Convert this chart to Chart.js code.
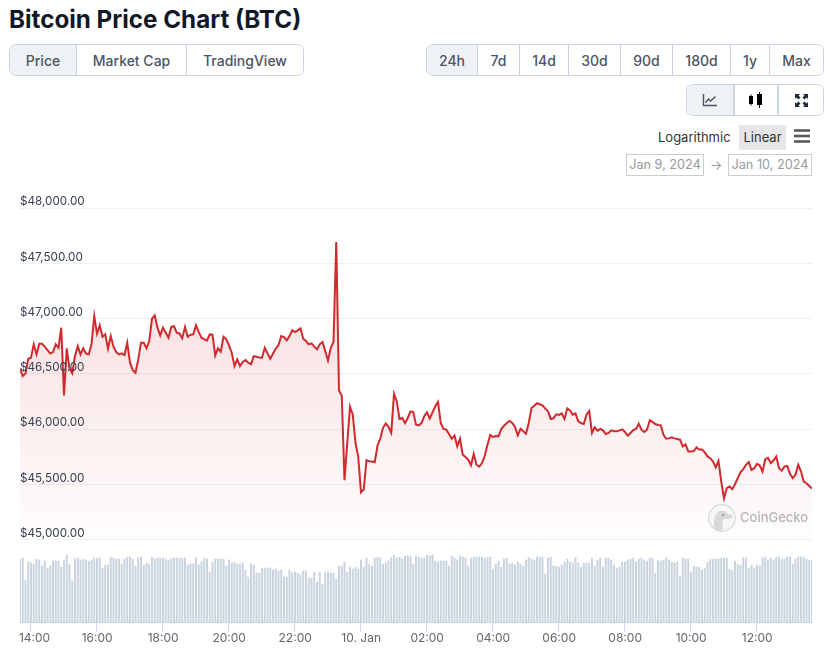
<!DOCTYPE html>
<html>
<head>
<meta charset="utf-8">
<title>Bitcoin Price Chart (BTC)</title>
<script src="https://cdn.jsdelivr.net/npm/chart.js@4/dist/chart.umd.min.js"></script>
<style>
    html, body { margin: 0; padding: 0; background: #fff; overflow: hidden; }
    body { width: 824px; height: 662px; position: relative; font-family: Inter, sans-serif; }
    h1 { position: absolute; left: 9px; top: 5px; margin: 0; font-size: 24.200px; line-height: 30px; font-weight: 700; color: #111827; white-space: nowrap; }
    .group { position: absolute; display: flex; box-sizing: border-box; height: 32px; border: 1px solid #cbd5e1; border-radius: 7px; overflow: hidden; background: #fff; }
    .group div { box-sizing: border-box; display: flex; align-items: center; justify-content: center; height: 100%; font-size: 14px; font-weight: 500; color: #4b5563; border-left: 1px solid #cbd5e1; }
    .group div:first-child { border-left: 0; }
    .group .on { background: #eff2f5; }
    .txt { position: absolute; white-space: nowrap; }
    .date { position: absolute; box-sizing: border-box; top: 154px; height: 22px; border: 1px solid #ccc; color: #999; font-size: 12.700px; line-height: 20px; text-align: center; white-space: nowrap; }
    #chartBox { position: absolute; left: 0; top: 190px; width: 824px; height: 472px; }
    #gecko { position: absolute; left: 708px; top: 504px; width: 28px; height: 28px; }
    #geckoText { position: absolute; left: 740px; top: 508px; font-size: 13px; line-height: 18px; font-weight: 500; color: #b4b4b4; }
</style>
</head>
<body>
<h1>Bitcoin Price Chart (BTC)</h1>

<div class="group" style="left:9px;top:44px;width:295px">
    <div class="on" style="width:66px">Price</div><div style="width:110px">Market Cap</div><div style="flex:1">TradingView</div>
</div>
<div class="group" style="left:426px;top:44px;width:398px">
    <div class="on" style="width:50px">24h</div><div style="width:42px">7d</div><div style="width:49px">14d</div><div style="width:52px">30d</div><div style="width:52px">90d</div><div style="width:58px">180d</div><div style="width:39px">1y</div><div style="flex:1">Max</div>
</div>
<div class="group" style="left:686px;top:84px;width:138px">
    <div class="on" style="width:46px">
        <svg width="16" height="14" viewBox="0 0 16 14"><path d="M1.500 1v11.500H15" fill="none" stroke="#4b5563" stroke-width="1.400"/><path d="M3.500 9.500l3-3.500 2 2 5-4.500" fill="none" stroke="#4b5563" stroke-width="1.400"/></svg>
    </div>
    <div style="width:44px;border-left-width:2px">
        <svg width="16" height="16" viewBox="0 0 16 16"><path d="M1 4h4v8H1zM9 2h5v11H9z" fill="#000"/><path d="M11.500 0v16M3 2.500v11" stroke="#000" stroke-width="1"/></svg>
    </div>
    <div style="flex:1;border-left-width:2px">
        <svg width="13" height="13" viewBox="0 0 13 13"><path d="M0 0h5L3.500 1.500 5.500 3.500 3.500 5.500 1.500 3.500 0 5zM13 0v5L11.500 3.500 9.500 5.500 7.500 3.500 9.500 1.500 8 0zM0 13V8L1.500 9.500 3.500 7.500 5.500 9.500 3.500 11.500 5 13zM13 13H8L9.500 11.500 7.500 9.500 9.500 7.500 11.500 9.500 13 8z" fill="#1f2937"/></svg>
    </div>
</div>

<div class="txt" style="left:658px;top:129px;font-size:13px;line-height:17px;color:#333">Logarithmic</div>
<div class="txt" style="left:739px;top:125px;width:47px;height:25px;line-height:25px;background:#e6e6e6;font-size:13px;color:#333;text-align:center">Linear</div>
<svg class="txt" style="left:794px;top:129px" width="16" height="14"><path d="M0 1.500h16M0 7h16M0 12.500h16" stroke="#555" stroke-width="2.600"/></svg>
<div class="date" style="left:626px;width:78px">Jan 9, 2024</div>
<div class="txt" style="left:710px;top:155px;font-size:13px;line-height:20px;color:#999">→</div>
<div class="date" style="left:728px;width:84px">Jan 10, 2024</div>

<div id="chartBox"><canvas id="priceChart" width="824" height="472"></canvas></div>

<svg id="gecko" viewBox="0 0 28 28">
    <circle cx="14" cy="14" r="13.300" fill="#f6f6f6" stroke="#d8d8d8" stroke-width="1.200"/>
    <path d="M7 26.500C5 18 6 9 12 7c4-1 7 1 8 3 3 0 5 1 5 3-2 2-6 2-9 2-2 3-2 7-1 11.500z" fill="#d9d9d9"/>
    <circle cx="15" cy="11" r="1.500" fill="#aaa"/>
</svg>
<div id="geckoText">CoinGecko</div>

<script>
// minutes since Jan 9 00:00, one sample every 5 minutes
const startMinute = 821;
const stepMinutes = 5;

const prices = [
    46545, 46479, 46503, 46636, 46645, 46766, 46675, 46772, 46772, 46745,
    46714, 46684, 46696, 46766, 46735, 46917, 46304, 46730, 46545, 46503,
    46660, 46750, 46675, 46730, 46681, 46675, 46766, 47022, 46862, 46938,
    46835, 46856, 46726, 46841, 46745, 46696, 46675, 46684, 46669, 46781,
    46600, 46533, 46509, 46630, 46781, 46781, 46730, 46796, 46998, 47028,
    46917, 46847, 46917, 46871, 46826, 46923, 46932, 46871, 46865, 46820,
    46923, 46835, 46853, 46856, 46938, 46877, 46826, 46811, 46802, 46856,
    46853, 46666, 46730, 46699, 46835, 46811, 46757, 46690, 46569, 46630,
    46569, 46606, 46624, 46600, 46585, 46660, 46654, 46648, 46645, 46735,
    46684, 46636, 46684, 46726, 46760, 46841, 46832, 46802, 46841, 46893,
    46877, 46893, 46911, 46817, 46796, 46766, 46775, 46745, 46720, 46766,
    46787, 46705, 46620, 46735, 46787, 47693, 46349, 46304, 45537, 45875,
    46201, 46132, 45875, 45748, 45428, 45452, 45718, 45709, 45706, 45700,
    45851, 45911, 46011, 46050, 46020, 45965, 46319, 46252, 46092, 46100,
    46054, 46100, 46160, 46154, 46039, 46033, 46054, 46115, 46151, 46094,
    46151, 46205, 46245, 46054, 46000, 45994, 45955, 45912, 45940, 45843,
    45912, 45767, 45746, 45722, 45671, 45774, 45677, 45659, 45692, 45758,
    45858, 45946, 45928, 45937, 45934, 46000, 46030, 46054, 46072, 46054,
    46018, 45943, 46003, 45979, 45958, 46054, 46190, 46211, 46233, 46224,
    46214, 46184, 46160, 46091, 46097, 46133, 46127, 46142, 46091, 46187,
    46169, 46130, 46142, 46069, 46054, 46045, 46130, 46163, 45964, 46015,
    45985, 46000, 45988, 45955, 45964, 45988, 45979, 45979, 45988, 45997,
    45973, 45939, 45964, 45991, 46000, 46048, 45994, 45973, 45994, 46079,
    46064, 46045, 46036, 46033, 45948, 45912, 45915, 45924, 45915, 45909,
    45903, 45842, 45861, 45797, 45797, 45800, 45833, 45815, 45815, 45788,
    45752, 45736, 45706, 45652, 45712, 45524, 45373, 45464, 45479, 45455,
    45500, 45555, 45609, 45636, 45676, 45700, 45630, 45645, 45685, 45670,
    45615, 45727, 45739, 45691, 45715, 45752, 45645, 45624, 45661, 45664,
    45594, 45555, 45585, 45676, 45615, 45524, 45509, 45485, 45461
];

// relative volume, no axis in the picture
const volumes = [
    64, 65, 43, 61, 60, 59, 64, 63, 57, 62,
    55, 57, 62, 62, 62, 56, 63, 68, 59, 42,
    64, 65, 63, 64, 63, 62, 63, 65, 65, 65,
    55, 58, 58, 66, 65, 64, 64, 59, 64, 66,
    66, 64, 57, 65, 66, 58, 60, 59, 66, 64,
    65, 65, 65, 64, 63, 64, 65, 65, 65, 65,
    65, 58, 59, 59, 65, 58, 61, 65, 64, 51,
    61, 64, 64, 64, 64, 57, 63, 60, 61, 59,
    59, 60, 53, 46, 59, 58, 50, 50, 55, 55,
    55, 55, 53, 54, 52,
    53, 46, 46, 53, 50, 51, 50, 48, 52, 52,
    45, 45, 51, 41, 51, 39, 51, 51, 50, 50,
    44, 57, 57, 61, 51, 56, 54, 56, 54, 63,
    56, 65, 59, 57, 65, 66, 65, 59, 60, 62,
    65, 68, 65, 66, 64, 67, 67, 67, 59, 67,
    66, 65, 65, 68, 67, 68, 62, 61, 62, 62,
    62, 57, 67, 65, 63, 67, 66, 65, 57, 65,
    66, 66, 66, 66, 65, 66, 66, 54, 59, 62,
    56, 64, 65, 59, 60, 58, 61, 59, 57, 63,
    66, 64, 63, 66, 66, 66, 49, 65,
    66, 57, 57, 56, 58, 61, 64, 61, 60, 65,
    60, 56, 60, 60, 60, 65, 57, 63, 65, 56,
    65, 65, 63, 58, 55, 56, 61, 61, 63, 64,
    65, 61, 64, 65, 63, 62, 65, 65, 50, 63,
    62, 63, 65, 63, 61, 60, 61, 47, 65, 64,
    64, 51, 57, 56, 56, 53, 55, 61, 64, 64,
    64, 64, 65, 65, 65, 54, 53, 62, 59, 58,
    65, 65, 55, 58, 55, 58, 57, 65, 66, 63,
    65, 63, 66, 66, 64, 64, 66, 66, 59, 64,
    66, 66, 66, 64, 63, 63
];

const priceTicks = [45000, 45500, 46000, 46500, 47000, 47500, 48000];
const timeTicks = [840, 960, 1080, 1200, 1320, 1440, 1560, 1680, 1800, 1920, 2040, 2160];
const timeLabels = ['14:00', '16:00', '18:00', '20:00', '22:00', '10. Jan', '02:00', '04:00', '06:00', '08:00', '10:00', '12:00'];

const minuteAt = i => startMinute + i * stepMinutes;
const priceLabel = v => '$' + v.toLocaleString('en-US', { minimumFractionDigits: 2 });

// area under the line fades out towards the $45,000 level
function areaGradient(context) {
    const { ctx, scales, chartArea } = context.chart;
    if (!chartArea) return 'transparent';
    const g = ctx.createLinearGradient(0, chartArea.top, 0, scales.y.getPixelForValue(45000));
    g.addColorStop(0, 'rgba(211,47,47,0.2)');
    g.addColorStop(1, 'rgba(211,47,47,0.01)');
    return g;
}

function timeLabel(v) {
    const i = timeTicks.indexOf(v);
    // first label is pushed right so it stays inside the plot
    return i === 0 ? '\u00a0\u00a0' + timeLabels[i] : timeLabels[i];
}

new Chart(document.getElementById('priceChart'), {
    data: {
        datasets: [
            {
                type: 'line',
                data: prices.map((p, i) => ({ x: minuteAt(i), y: p })),
                yAxisID: 'y',
                borderColor: '#cf2a2e',
                borderWidth: 2,
                pointRadius: 0,
                tension: 0,
                fill: { value: 45000 },
                backgroundColor: areaGradient,
                order: 1
            },
            {
                type: 'bar',
                data: volumes.map((v, i) => ({ x: minuteAt(i), y: v })),
                yAxisID: 'yVolume',
                backgroundColor: '#c9d4e0',
                barThickness: 2,
                inflateAmount: 0,
                order: 2
            }
        ]
    },
    options: {
        responsive: false,
        animation: false,
        devicePixelRatio: 1,
        layout: { padding: { left: 20, right: 12, top: 18, bottom: 16 } },
        plugins: { legend: { display: false }, tooltip: { enabled: false } },
        scales: {
            x: {
                type: 'linear',
                offset: false,
                min: startMinute,
                max: startMinute + 1440,
                afterBuildTicks: s => { s.ticks = timeTicks.map(v => ({ value: v })); },
                grid: { offset: false, drawOnChartArea: false, tickLength: 9, tickColor: '#ccd6eb' },
                border: { color: '#ccd6eb' },
                ticks: {
                    autoSkip: false,
                    maxRotation: 0,
                    padding: 0,
                    labelOffset: 0.7,
                    color: '#666',
                    font: { family: 'Inter', size: 12 },
                    callback: timeLabel
                }
            },
            y: {
                position: 'left',
                min: 44248,
                max: 48000,
                afterBuildTicks: s => { s.ticks = priceTicks.map(v => ({ value: v })); },
                grid: { color: '#f0f0f0', drawTicks: false },
                border: { display: false },
                ticks: {
                    mirror: true,
                    padding: 0,
                    z: 1,
                    color: '#374151',
                    font: { family: 'Inter', size: 11.7, lineHeight: 1.05 },
                    // empty second line lifts the label above its grid line
                    callback: v => [priceLabel(v), '']
                }
            },
            yVolume: {
                display: false,
                min: 0,
                max: 415
            }
        }
    }
});
</script>
</body>
</html>
